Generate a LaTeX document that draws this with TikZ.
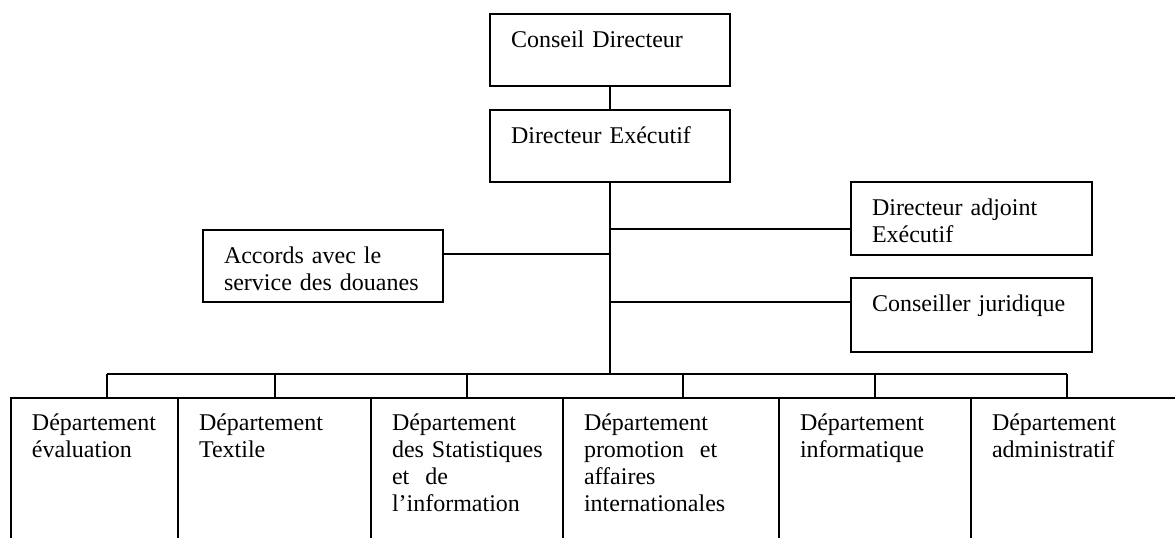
\documentclass[tikz,border=0pt]{standalone}
\usepackage{fontspec}
\setmainfont{Liberation Serif}
\usetikzlibrary{positioning, calc}
\tikzset{
  orgbox/.style={draw, line width=0.8pt, anchor=north west, outer sep=0pt, align=left,
                 inner xsep=10.5pt, inner ysep=0pt, text height=16.5pt,
                 font=\fontsize{12pt}{13.5pt}\selectfont},
  link/.style={line width=0.8pt},
}

\begin{document}
\begin{tikzpicture}[x=0.5pt, y=-0.5pt,
  head/.style={orgbox, text width=99pt, text depth=19.5pt},
  side/.style={orgbox, text width=99.5pt, text depth=20pt},
  dept/.style={orgbox, text height=16pt, text depth=65pt}]
  \useasboundingbox (0,0) rectangle (1175,537);
  \clip (0,0) rectangle (1175,537);
  % Top: board and executive director
  \node[head] (cd) at (490,14) {Conseil Directeur};
  \node[head] (de) at (490,110) {Directeur Exécutif};
  \draw[link] (cd) -- (de);
  % Side boxes hanging off the trunk
  \node[side] (adj) at (851,182) {Directeur adjoint\\Exécutif};
  \node[side, text depth=20.5pt] (jur) at (851,278) {Conseiller juridique};
  \node[head] (acc) at (203,230) {Accords avec le\\service des douanes};
  \coordinate (tadj) at (610,229);
  \coordinate (tacc) at (610,254);
  \coordinate (tjur) at (610,302);
  \draw[link] (tadj) -- (tadj -| adj.west);
  \draw[link] (tacc) -- (tacc -| acc.east);
  \draw[link] (tjur) -- (tjur -| jur.west);
  % Bottom row: departments
  \foreach \x/\tw/\dx/\t in {11/62.5pt/107/{Département\\évaluation},
      178/75.5pt/275/{Département\\Textile},
      371/75pt/467/{Département\\\mbox{des Statistiques}\\et~ de\\l’information},
      563/87pt/683/{Département\\promotion~ et\\affaires\\internationales},
      779/75pt/875/{Département\\informatique},
      971/84pt/1067/{Département\\administratif}} {
    \node[dept, text width=\tw] (d\x) at (\x,398) {\t};
    \coordinate (b\x) at (\dx,374);
    \draw[link] (b\x) -- (b\x |- d\x.north);
  }
  \draw[link] (b11) -- (b971);
  \draw[link] (de.south) -- (de.south |- b11);
\end{tikzpicture}
\end{document}
